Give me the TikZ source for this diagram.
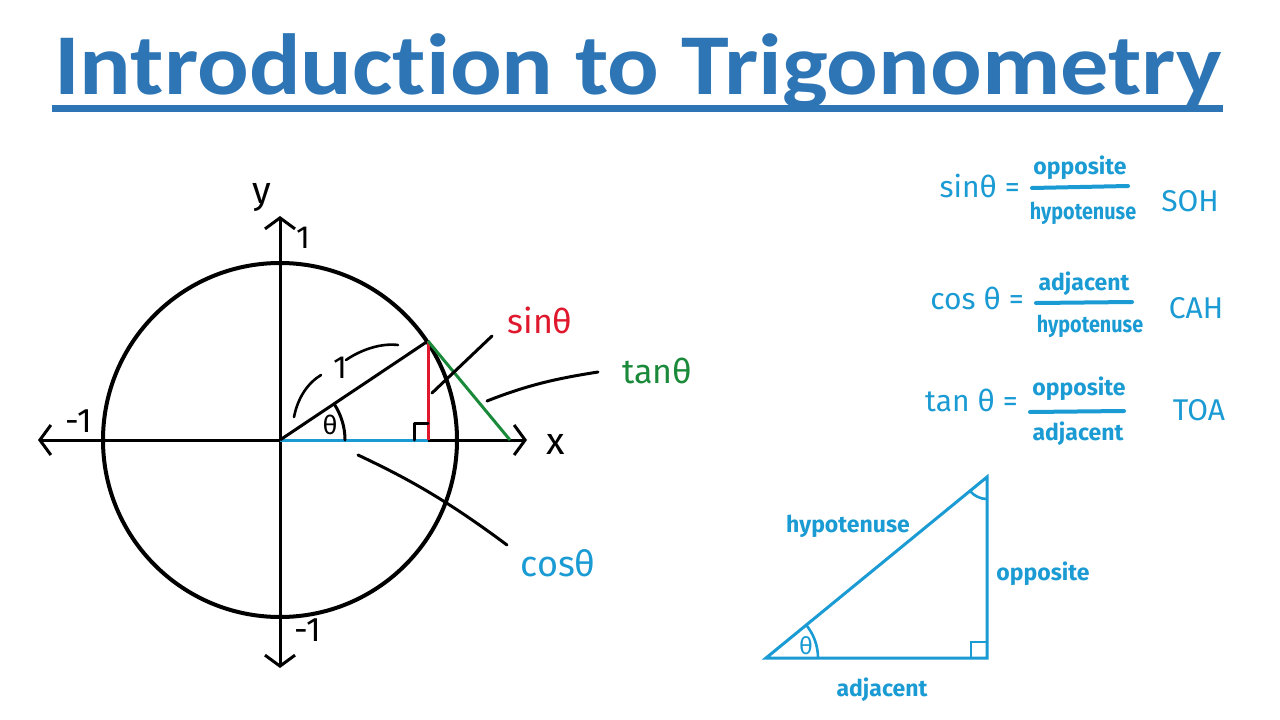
\documentclass[tikz,border=0pt]{standalone}
\usepackage{fontspec}
\setmainfont{Fira Sans}
\newfontfamily\titlefont[Ligatures=NoCommon]{Carlito}
\usetikzlibrary{arrows.meta}
\definecolor{titleblue}{HTML}{2E75B6}
\definecolor{cyanblue}{HTML}{1B9BD3}
\definecolor{sinred}{HTML}{E0182D}
\definecolor{tangreen}{HTML}{1A8A3A}
\tikzset{
  ink/.style={line width=3pt, line cap=round, line join=round},
  axis/.style={ink, black, {Straight Barb[length=11pt,width=30pt,line width=3pt]}-{Straight Barb[length=11pt,width=30pt,line width=3pt]}},
  lbl/.style={inner sep=0pt, font=\fontsize{30}{30}\selectfont},
  small/.style={inner sep=0pt, font=\fontsize{23}{23}\selectfont\bfseries, text=cyanblue},
  eq/.style={inner sep=0pt, font=\fontsize{30}{30}\selectfont, text=cyanblue},
  fracline/.style={line width=4pt, cyanblue, line cap=round},
  tri/.style={line width=3pt, cyanblue, line join=miter},
}
\newcommand{\narrow}[1]{\scalebox{0.86}[1]{#1}}
\begin{document}
\begin{tikzpicture}[x=1pt,y=-1pt]
\useasboundingbox[fill=white] (0,0) rectangle (1280,720);
% title
\node[inner sep=0pt, anchor=base, text=titleblue] (title) at (638,94) {\scalebox{1}[0.9]{\resizebox{1167pt}{!}{\titlefont\bfseries Introduction to Trigonometry}}};
\fill[titleblue] (52,105) rectangle (1223,112);

% unit circle
\coordinate (O) at (280,440);
\coordinate (P) at (428,341);
\coordinate (F) at (428,440);
\coordinate (T) at (510,440);
\draw[line width=4pt] (O) circle (177);
\draw[axis] (280,668) -- (280,216);
\draw[axis] (38,440) -- (527,440);
\draw[line width=3pt, cyanblue] (O) -- (F);
\draw[line width=3pt, black] (O) -- (P);
\draw[line width=3pt, sinred] (P) -- (F);
\draw[line width=3pt, tangreen] (P) -- (T);
\draw[ink] (414,440) -- (414,423) -- (428,423);
\draw[ink] (O) ++(65,0) arc[start angle=0, end angle=-33, radius=65];
\node[lbl, font=\fontsize{26}{26}\selectfont] (th) at (330,425) {θ};
\draw[ink, line width=2.6pt] (294,417) .. controls (298,397) and (308,383) .. (321,375);
\draw[ink, line width=2.6pt] (346,360) .. controls (362,349) and (382,343) .. (398,345);
\node[lbl, font=\fontsize{32}{32}\selectfont] (one) at (340,368) {1};
\node[lbl, font=\fontsize{38}{38}\selectfont] (ylab) at (262,198) {y};
\node[lbl, font=\fontsize{38}{38}\selectfont] (xlab) at (556,444) {x};
\node[lbl, font=\fontsize{32}{32}\selectfont] (ytop) at (303,238) {1};
\node[lbl, font=\fontsize{34}{34}\selectfont] (xneg) at (79,421) {-1};
\node[lbl, font=\fontsize{34}{34}\selectfont] (yneg) at (308,630) {-1};

% labels with leaders
\node[lbl, text=sinred, font=\fontsize{34}{34}\selectfont] (sin) at (540,320) {sinθ};
\node[lbl, text=tangreen, font=\fontsize{34}{34}\selectfont] (tan) at (657,371) {tanθ};
\node[lbl, text=cyanblue, font=\fontsize{36}{36}\selectfont] (cos) at (558,563) {cosθ};
\coordinate (sA) at (432,393);
\coordinate (sB) at (492,336);
\draw[ink] (sA) -- (sB);
\coordinate (tA) at (487,401);
\coordinate (tB) at (598,372);
\draw[ink] (tA) .. controls (530,384) and (560,378) .. (tB);
\coordinate (cA) at (358,455);
\coordinate (cB) at (507,545);
\draw[ink] (cA) .. controls (400,475) and (440,495) .. (cB);

% formulas
\node[eq, anchor=east] (e1) at (1020,186) {sinθ =};
\node[small] (n1) at (1080,168) {opposite};
\draw[fracline] (1032,188) -- (1128,186);
\node[small] (d1) at (1083,213) {\narrow{hypotenuse}};
\node[eq] (soh) at (1190,201) {SOH};

\node[eq, anchor=east] (e2) at (1024,298) {cos θ =};
\node[small] (n2) at (1084,284) {adjacent};
\draw[fracline] (1036,303) -- (1132,302);
\node[small] (d2) at (1090,326) {\narrow{hypotenuse}};
\node[eq] (cah) at (1196,308) {CAH};

\node[eq, anchor=east] (e3) at (1018,400) {tan θ =};
\node[small] (n3) at (1079,389) {opposite};
\draw[fracline] (1030,412) -- (1124,411);
\node[small] (d3) at (1078,434) {adjacent};
\node[eq] (toa) at (1199,410) {TOA};

% right triangle
\coordinate (A) at (766,658);
\coordinate (B) at (987,658);
\coordinate (C) at (987,477);
\draw[tri] (A) -- (B) -- (C) -- cycle;
\draw[line width=2.6pt, cyanblue] (971,658) -- (971,642) -- (987,642);
\draw[line width=2.6pt, cyanblue] (A) ++(52,0) arc[start angle=0, end angle=-39.3, radius=52];
\draw[line width=2.6pt, cyanblue] (C) ++(0,22) arc[start angle=90, end angle=140.7, radius=22];
\node[lbl, text=cyanblue, font=\fontsize{24}{24}\selectfont] (th2) at (806,646) {θ};
\node[small] (hyp) at (848,526) {hypotenuse};
\node[small] (opp) at (1043,574) {opposite};
\node[small] (adj) at (882,690) {adjacent};
\end{tikzpicture}
\end{document}
